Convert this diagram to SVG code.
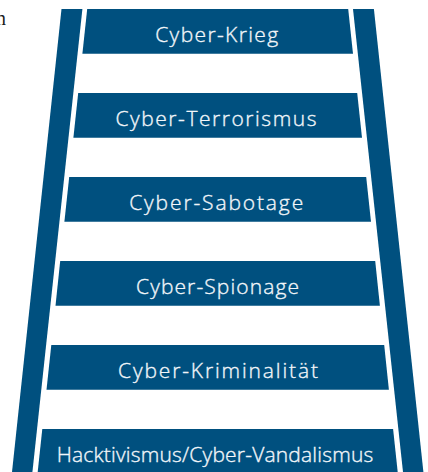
<svg xmlns="http://www.w3.org/2000/svg" width="428" height="472" viewBox="0 0 428 472">
  <style>
    .rail { fill: #00507f; }
    .rung { fill: #00507f; }
    .label { font-family: "Open Sans", "Noto Sans", sans-serif; font-size: 21px; font-weight: 300; fill: #f2f6fa; stroke: #f2f6fa; stroke-width: 0.35px; text-anchor: middle; }
    .stray { font-family: "Liberation Serif", serif; font-size: 20px; fill: #1a1a1a; }
  </style>

  <rect x="0" y="0" width="428" height="472" fill="#ffffff"/>

  <!-- clipped word from the surrounding page -->
  <text class="stray" x="-4" y="25">n</text>

  <!-- ladder rails -->
  <g id="rails">
    <polygon class="rail" points="61.5,9 82.4,9 32.4,472 12,472"/>
    <polygon class="rail" points="353,9 373.9,9 423.4,472 403,472"/>
  </g>

  <g id="connectors"></g>

  <!-- rungs, top to bottom -->
  <g id="rung-krieg">
    <polygon class="rung" points="87.2,9 348.2,9 353,53.7 82.4,53.7"/>
    <text class="label" x="216.7" y="41.5" textLength="123" lengthAdjust="spacing">Cyber-Krieg</text>
  </g>
  <g id="rung-terrorismus">
    <polygon class="rung" points="78.2,93 357.2,93 362,137.7 73.4,137.7"/>
    <text class="label" x="216" y="125.5" textLength="201" lengthAdjust="spacing">Cyber-Terrorismus</text>
  </g>
  <g id="rung-sabotage">
    <polygon class="rung" points="69.2,177 366.2,177 371,221.7 64.4,221.7"/>
    <text class="label" x="216.2" y="210" textLength="174" lengthAdjust="spacing">Cyber-Sabotage</text>
  </g>
  <g id="rung-spionage">
    <polygon class="rung" points="60.2,261 375.2,261 379.9,305.7 55.5,305.7"/>
    <text class="label" x="217.5" y="293.5" textLength="163" lengthAdjust="spacing">Cyber-Spionage</text>
  </g>
  <g id="rung-kriminalitaet">
    <polygon class="rung" points="51.3,345 384.2,345 388.9,389.7 46.5,389.7"/>
    <text class="label" x="218" y="377.5" textLength="200" lengthAdjust="spacing">Cyber-Kriminalität</text>
  </g>
  <g id="rung-hacktivismus">
    <polygon class="rung" points="42.3,429 393.1,429 397.7,472 37.7,472"/>
    <text class="label" x="215" y="461.5" textLength="316.6" lengthAdjust="spacing">Hacktivismus/Cyber-Vandalismus</text>
  </g>
</svg>
